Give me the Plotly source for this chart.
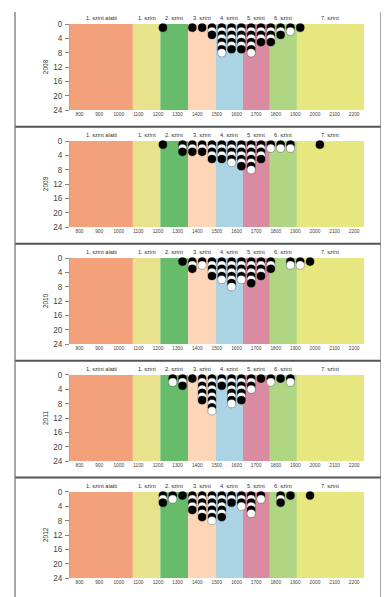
import plotly.graph_objects as go

# ---------------- data ----------------
years = ["2008", "2009", "2010", "2011", "2012"]
bin_centers = [1225, 1275, 1325, 1375, 1425, 1475, 1525, 1575, 1625,
               1675, 1725, 1775, 1825, 1875, 1925, 1975, 2025]
counts_2008 = [1, 0, 0, 1, 1, 3, 8, 7, 7, 8, 5, 5, 3, 2, 1, 0, 0]
counts_2009 = [1, 0, 3, 3, 3, 5, 5, 6, 7, 8, 5, 2, 2, 2, 0, 0, 1]
counts_2010 = [0, 0, 1, 3, 2, 5, 6, 8, 6, 7, 5, 3, 0, 2, 2, 1, 0]
counts_2011 = [0, 2, 3, 1, 7, 10, 3, 8, 7, 4, 1, 2, 1, 2, 0, 0, 0]
counts_2012 = [3, 2, 1, 5, 7, 8, 7, 3, 4, 6, 2, 0, 3, 1, 0, 1, 0]
all_counts = [counts_2008, counts_2009, counts_2010, counts_2011, counts_2012]

levels = ["1. szint alatti", "1. szint", "2. szint", "3. szint",
          "4. szint", "5. szint", "6. szint", "7. szint"]
level_edges = [750, 1072, 1212, 1353, 1494, 1633, 1770, 1908, 2250]
level_colors = ["#F3A17B", "#E8E28C", "#67BC6B", "#FCD6B6",
                "#AAD3E3", "#D88BA1", "#AED683", "#E7E67F"]

x_ticks = list(range(800, 2201, 100))
y_ticks = [0, 4, 8, 12, 16, 20, 24]

# ---------------- layout helpers ----------------
W, H = 389, 597
plot_left, plot_right = 61.7, 356.0
first_top, panel_step, plot_h = 12.3, 118.75, 87.5
FONT = "Liberation Sans, Arial, sans-serif"

fig = go.Figure()
layout = dict(
    width=W, height=H, autosize=False,
    margin=dict(l=0, r=0, t=0, b=0),
    paper_bgcolor="white", plot_bgcolor="white",
    showlegend=False, font=dict(family=FONT, color="#333"),
)
shapes, annotations = [], []

for k, (year, counts) in enumerate(zip(years, all_counts)):
    idx = "" if k == 0 else str(k + 1)
    xa, ya = "x" + idx, "y" + idx
    top = first_top + k * panel_step
    bottom = top + plot_h
    layout["xaxis" + idx] = dict(
        domain=[plot_left / W, plot_right / W], anchor=ya,
        range=[level_edges[0], level_edges[-1]],
        tickvals=x_ticks, ticktext=[str(v) for v in x_ticks],
        tickfont=dict(size=4.8, color="#444"), ticks="", ticklen=0,
        showgrid=False, zeroline=False, showline=False, fixedrange=True,
    )
    layout["yaxis" + idx] = dict(
        domain=[1 - bottom / H, 1 - top / H], anchor=xa,
        range=[24, 0], tickvals=y_ticks,
        tickfont=dict(size=8.2, color="#444"),
        ticks="outside", ticklen=4, tickcolor="#888", tickwidth=1,
        showgrid=False, zeroline=False, showline=True, linecolor="#aaa",
        linewidth=0.6, fixedrange=True, ticklabelstandoff=1,
    )
    # level bands
    for i, col in enumerate(level_colors):
        shapes.append(dict(type="rect", xref=xa, yref=ya,
                           x0=level_edges[i], x1=level_edges[i + 1],
                           y0=0, y1=24, fillcolor=col,
                           line=dict(width=0), layer="below"))
        annotations.append(dict(
            xref=xa, yref=ya + " domain",
            x=(level_edges[i] + level_edges[i + 1]) / 2, y=1,
            yanchor="middle", yshift=6, showarrow=False,
            text=levels[i], font=dict(size=5.6, color="#333")))
    # year label
    annotations.append(dict(
        xref="paper", yref="paper", x=37 / W, y=1 - (top + bottom) / 2 / H,
        xanchor="center", yanchor="middle", textangle=-90, showarrow=False,
        text=year, font=dict(size=6.5, color="#333")))
    # stacked dots
    xs, ys, cols = [], [], []
    for c, n in zip(bin_centers, counts):
        for j in range(1, n + 1):
            xs.append(c)
            ys.append(j)
            cols.append("black" if j % 2 == 1 else "white")
    fig.add_trace(go.Scatter(
        x=xs, y=ys, mode="markers", xaxis=xa, yaxis=ya, cliponaxis=False,
        marker=dict(size=8.2, color=cols,
                    line=dict(width=0.5, color="rgba(0,0,0,0.55)")),
        hoverinfo="skip"))

# frame lines around panels
for k in range(4):
    yy = 116.5 + k * panel_step
    shapes.append(dict(type="line", xref="paper", yref="paper",
                       x0=7 / W, x1=373 / W, y0=1 - yy / H, y1=1 - yy / H,
                       line=dict(color="#555", width=2)))
for xx in (7, 373):
    shapes.append(dict(type="line", xref="paper", yref="paper",
                       x0=xx / W, x1=xx / W, y0=0, y1=1,
                       line=dict(color="#777", width=1.3)))

layout["shapes"] = shapes
layout["annotations"] = annotations
fig.update_layout(**layout)
fig.write_html("out.html")
